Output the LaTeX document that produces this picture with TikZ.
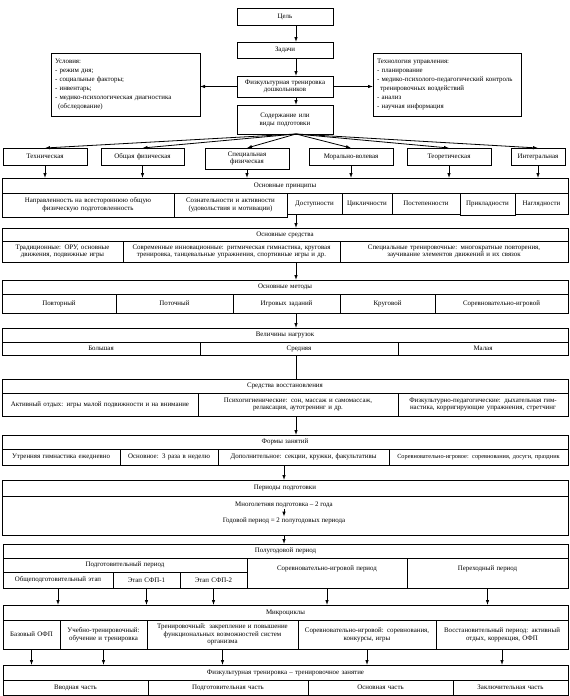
\documentclass[tikz,border=0pt]{standalone}
\usepackage{fontspec}
\setmainfont{Liberation Serif}
\usetikzlibrary{arrows.meta}

% table cell: name, x1, y1, x2, y2, text
\newcommand\tcell[6]{%
  \pgfmathsetmacro\cellw{#4-#2}%
  \pgfmathsetmacro\cellh{#5-#3}%
  \pgfmathsetmacro\cellt{#4-#2-4}%
  \node[box, minimum width=\cellw pt, minimum height=\cellh pt, text width=\cellt pt]
    (#1) at ({(#2+#4)/2},{(#3+#5)/2}) {#6};}

\begin{document}
\begin{tikzpicture}[x=1pt,y=-1pt,
  box/.style={draw, line width=.8pt, inner sep=0pt, outer sep=0pt, align=center,
    font=\fontsize{6.9}{7.8}\selectfont},
  arr/.style={-{Latex[length=5pt,width=3.5pt]}, line width=.8pt}]
\useasboundingbox (0,0) rectangle (570,696);
\coordinate (colx) at (296,0);
\coordinate (colp) at (284,0);

% top
\tcell{tsel}{237}{8}{333}{25}{Цель}
\tcell{zad}{237}{42}{333}{58}{Задачи}
\tcell{fiz}{237}{76}{333}{97}{Физкультурная тренировка\\дошкольников}
\tcell{soder}{237}{105}{333}{134}{Содержание или\\виды подготовки}
\node[box, align=left, minimum width=149pt, minimum height=63pt, text width=141pt,
  font=\fontsize{6.9}{9}\selectfont] (usl) at (125.5,84.5)
  {Условия:\\- режим дня;\\- социальные факторы;\\- инвентарь;\\- медико-психологическая диагностика\\\hspace*{3pt}(обследование)};
\node[box, align=left, minimum width=148pt, minimum height=63pt, text width=140pt,
  font=\fontsize{6.9}{9}\selectfont] (tech) at (447,84.5)
  {Технология управления:\\- планирование\\- медико-психолого-педагогический контроль\\\hspace*{3pt}тренировочных воздействий\\- анализ\\- научная информация};
\draw[arr] (tsel.south -| colx) -- (zad.north -| colx);
\draw[arr] (zad.south -| colx) -- (fiz.north -| colx);
\draw[arr] (fiz.south -| colx) -- (soder.north -| colx);
\draw[arr] (fiz.west) -- (fiz.west -| usl.east);
\draw[arr] (fiz.east) -- (fiz.east -| tech.west);

% kinds
\tcell{k1}{3}{148}{87}{165}{Техническая}
\tcell{k2}{101}{148}{184}{165}{Общая физическая}
\tcell{k3}{205}{148}{289}{169}{Специальная\\физическая}
\tcell{k4}{309}{148}{393}{165}{Морально-волевая}
\tcell{k5}{407}{148}{491}{165}{Теоретическая}
\tcell{k6}{511}{148}{565}{165}{Интегральная}
\foreach \k in {k1,k2,k3,k4,k5,k6}
  \draw[arr] (soder.south -| colx) -- (\k.north);

% principles
\tcell{prh}{2}{178}{568}{193}{Основные принципы}
\tcell{pr1}{2}{193}{174}{217}{Направленность на всестороннюю общую\\физическую подготовленность}
\tcell{pr2}{174}{193}{287}{217}{Сознательности и активности\\(удовольствия и мотивации)}
\tcell{pr3}{287}{193}{342}{214}{Доступности}
\tcell{pr4}{342}{193}{392}{214}{Цикличности}
\tcell{pr5}{392}{193}{460}{214}{Постепенности}
\tcell{pr6}{460}{193}{515}{215}{Прикладности}
\tcell{pr7}{515}{193}{568}{214}{Наглядности}
\foreach \k in {k1,k2,k3,k4,k5,k6}
  \draw[arr] (\k.south) -- (\k.south |- prh.north);

% means
\tcell{srh}{2}{228}{568}{241}{Основные средства}
\tcell{sr1}{2}{241}{123}{262}{Традиционные: ОРУ, основные\\движения, подвижные игры}
\tcell{sr2}{123}{241}{340}{262}{Современные инновационные: ритмическая гимнастика, круговая\\тренировка, танцевальные упражнения, спортивные игры и др.}
\tcell{sr3}{340}{241}{568}{262}{Специальные тренировочные: многократные повторения,\\заучивание элементов движений и их связок}
\draw[arr] (pr3.south -| colx) -- (srh.north -| colx);

% methods
\tcell{meh}{2}{280}{568}{294}{Основные методы}
\tcell{me1}{2}{294}{116}{313}{Повторный}
\tcell{me2}{116}{294}{233}{313}{Поточный}
\tcell{me3}{233}{294}{340}{313}{Игровых заданий}
\tcell{me4}{340}{294}{435}{313}{Круговой}
\tcell{me5}{435}{294}{568}{313}{Соревновательно-игровой}
\draw[arr] (sr2.south -| colx) -- (meh.north -| colx);

% loads
\tcell{nah}{2}{328}{568}{342}{Величины нагрузок}
\tcell{na1}{2}{342}{200}{355}{Большая}
\tcell{na2}{200}{342}{398}{355}{Средняя}
\tcell{na3}{398}{342}{568}{355}{Малая}
\draw[arr] (me3.south -| colx) -- (nah.north -| colx);

% recovery
\tcell{voh}{2}{379}{568}{393}{Средства восстановления}
\tcell{vo1}{2}{393}{198}{416}{Активный отдых: игры малой подвижности и на внимание}
\tcell{vo2}{198}{393}{398}{416}{Психогигиенические: сон, массаж и самомассаж,\\релаксация, аутотренинг и др.}
\tcell{vo3}{398}{393}{568}{416}{Физкультурно-педагогические: дыхательная гим-\\настика, корригирующие упражнения, стретчинг}
\draw[line width=.8pt] (na2.south -| colx) -- (voh.north -| colx);

% forms
\tcell{foh}{2}{435}{568}{449}{Формы занятий}
\tcell{fo1}{2}{449}{120}{465}{Утренняя гимнастика ежедневно}
\tcell{fo2}{120}{449}{218}{465}{Основное: 3 раза в неделю}
\tcell{fo3}{218}{449}{389}{465}{Дополнительное: секции, кружки, факультативы}
\tcell{fo4}{389}{449}{568}{465}{{\fontsize{6.3}{7}\selectfont Соревновательно-игровое: соревнования, досуги, праздник}}
\draw[arr] (vo2.south -| colx) -- (foh.north -| colx);

% periods
\tcell{peh}{2}{480}{568}{496}{Периоды подготовки}
\tcell{peb}{2}{496}{568}{535}{}
\node[font=\fontsize{6.9}{7.8}\selectfont, inner sep=1pt] (mnog) at (284,505) {Многолетняя подготовка – 2 года};
\node[font=\fontsize{6.9}{7.8}\selectfont, inner sep=1pt] (god) at (284,521) {Годовой период = 2 полугодовых периода};
\draw[arr] (fo3.south -| colp) -- (peh.north -| colp);
\draw[arr] (mnog) -- (god);

% half-year
\tcell{poh}{3}{544}{568}{558}{Полугодовой период}
\tcell{po1}{3}{558}{247}{572}{Подготовительный период}
\tcell{po2}{247}{558}{407}{588}{Соревновательно-игровой период\\\strut}
\tcell{po3}{407}{558}{568}{588}{Переходный период\\\strut}
\tcell{st1}{3}{572}{113}{588}{Общеподготовительный этап}
\tcell{st2}{113}{572}{180}{588}{Этап СФП-1}
\tcell{st3}{180}{572}{247}{588}{Этап СФП-2}
\draw[arr] (peb.south -| colp) -- (poh.north -| colp);

% microcycles
\tcell{mih}{3}{605}{568}{620}{Микроциклы}
\tcell{mi1}{3}{620}{60}{649}{Базовый ОФП}
\tcell{mi2}{60}{620}{147}{649}{Учебно-тренировочный:\\обучение и тренировка}
\tcell{mi3}{147}{620}{298}{649}{Тренировочный: закрепление и повышение\\функциональных возможностей систем\\организма}
\tcell{mi4}{298}{620}{436}{649}{Соревновательно-игровой: соревнования,\\конкурсы, игры}
\tcell{mi5}{436}{620}{568}{649}{Восстановительный период: активный\\отдых, коррекция, ОФП}
\foreach \s in {st1,st2,st3,po2,po3}
  \draw[arr] (\s.south) -- (\s.south |- mih.north);

% lesson
\tcell{fih}{3}{665}{568}{680}{Физкультурная тренировка – тренировочное занятие}
\tcell{fi1}{3}{680}{148}{695}{Вводная часть}
\tcell{fi2}{148}{680}{308}{695}{Подготовительная часть}
\tcell{fi3}{308}{680}{453}{695}{Основная часть}
\tcell{fi4}{453}{680}{568}{695}{Заключительная часть}
\foreach \m in {mi1,mi2,mi3,mi4,mi5}
  \draw[arr] (\m.south) -- (\m.south |- fih.north);
\end{tikzpicture}
\end{document}
